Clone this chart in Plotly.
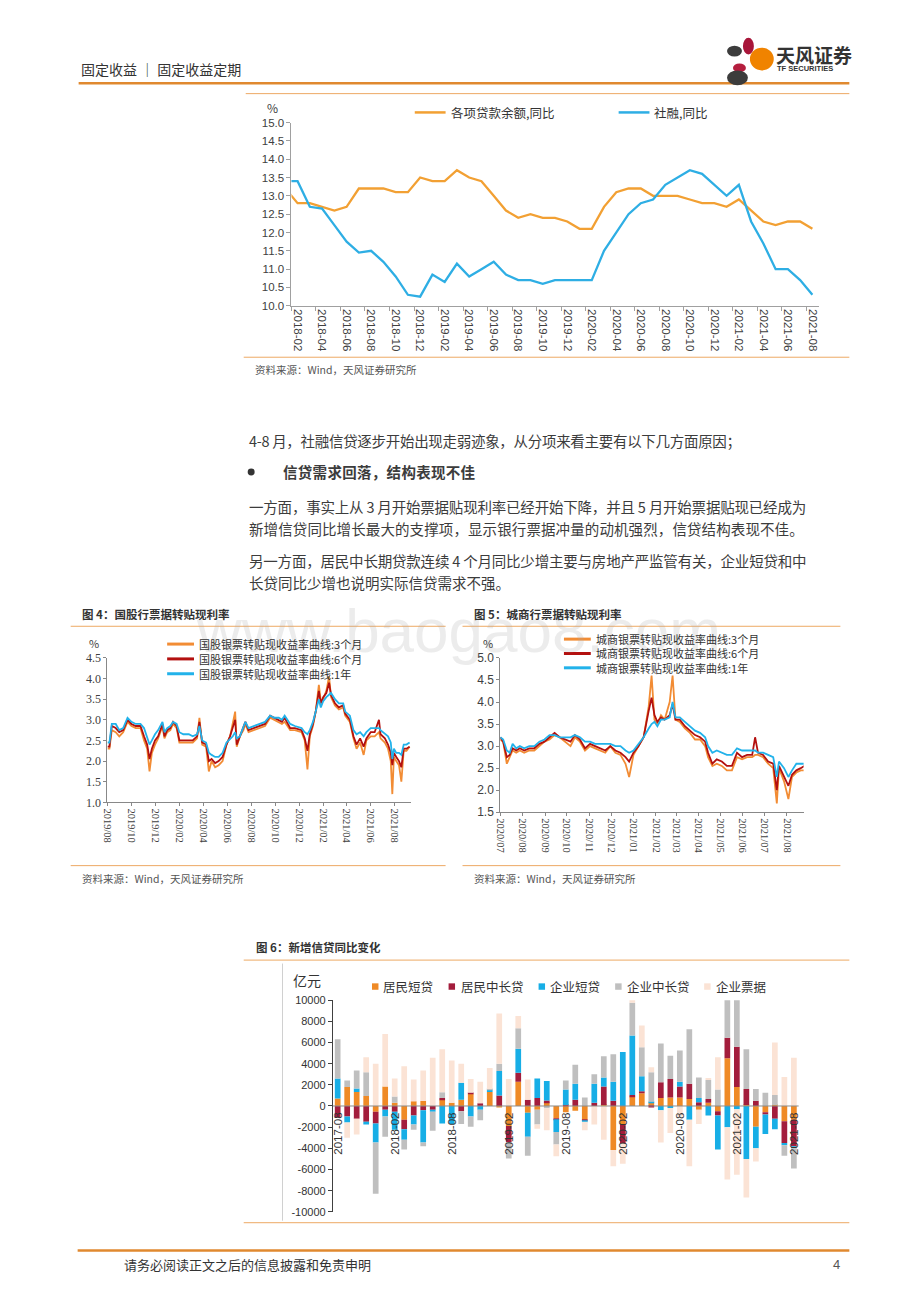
import plotly.graph_objects as go

# The page body keeps its default 8 px margin, so the figure is 16 px smaller than the
# window and every reference pixel position is shifted by that margin.
PAGE_W, PAGE_H = 920, 1302
MARGIN = 8
W, H = PAGE_W - 2 * MARGIN, PAGE_H - 2 * MARGIN


def px(x):
    return (x - MARGIN) / W


def py(y):
    return 1 - (y - MARGIN) / H


# ---------------------------------------------------------------- data
# Chart 1: monthly YoY growth (%), 2018-01 .. 2021-08
top_months = [f"{y}-{m:02d}" for y in range(2018, 2022) for m in range(1, 13)][:44]
top_tick_labels = top_months[1::2]
loan_name = "各项贷款余额,同比"
afre_name = "社融,同比"
loan_yoy = [13.2,
            12.8, 12.8, 12.7, 12.6, 12.7, 13.2, 13.2, 13.2, 13.1, 13.1, 13.5,
            13.4, 13.4, 13.7, 13.5, 13.4, 13.0, 12.6, 12.4, 12.5, 12.4, 12.4, 12.3,
            12.1, 12.1, 12.7, 13.1, 13.2, 13.2, 13.0, 13.0, 13.0, 12.9, 12.8, 12.8,
            12.7, 12.9, 12.6, 12.3, 12.2, 12.3, 12.3, 12.1]
afre_yoy = [13.4,
            13.4, 12.7, 12.65, 12.2, 11.75, 11.45, 11.5, 11.2, 10.8, 10.3, 10.25,
            10.85, 10.65, 11.15, 10.8, 11.0, 11.2, 10.85, 10.7, 10.7, 10.6, 10.7, 10.7,
            10.7, 10.7, 11.5, 12.0, 12.5, 12.8, 12.9, 13.3, 13.5, 13.7, 13.6, 13.3,
            13.0, 13.3, 12.3, 11.7, 11.0, 11.0, 10.7, 10.3]

# Chart 4: state-owned / joint-stock bank bill rediscount yields (%)
f4_names = ["国股银票转贴现收益率曲线:3个月", "国股银票转贴现收益率曲线:6个月", "国股银票转贴现收益率曲线:1年"]
f4_dates = ["2019-08-01", "2019-08-06", "2019-08-12", "2019-08-22", "2019-08-31", "2019-09-10", "2019-09-21",
            "2019-10-01", "2019-10-12", "2019-10-24", "2019-11-02", "2019-11-10", "2019-11-16", "2019-11-22",
            "2019-11-30", "2019-12-08", "2019-12-19", "2019-12-24", "2019-12-31", "2020-01-08", "2020-01-15",
            "2020-01-24", "2020-01-31", "2020-02-10", "2020-02-24", "2020-03-05", "2020-03-16", "2020-03-22",
            "2020-03-29", "2020-04-08", "2020-04-15", "2020-04-22", "2020-05-01", "2020-05-10", "2020-05-20",
            "2020-05-30", "2020-06-08", "2020-06-15", "2020-06-21", "2020-06-25", "2020-07-03", "2020-07-12",
            "2020-07-17", "2020-07-25", "2020-08-07", "2020-08-20", "2020-09-05", "2020-09-18", "2020-09-28",
            "2020-10-10", "2020-10-18", "2020-10-25", "2020-11-08", "2020-11-20", "2020-12-07", "2020-12-15",
            "2020-12-22", "2020-12-28", "2021-01-05", "2021-01-12", "2021-01-20", "2021-01-25", "2021-01-31",
            "2021-02-08", "2021-02-15", "2021-02-20", "2021-03-02", "2021-03-12", "2021-03-23", "2021-03-28",
            "2021-04-09", "2021-04-18", "2021-04-26", "2021-05-05", "2021-05-14", "2021-05-21", "2021-06-01",
            "2021-06-11", "2021-06-22", "2021-06-26", "2021-07-07", "2021-07-15", "2021-07-22", "2021-07-26",
            "2021-07-30", "2021-08-05", "2021-08-12", "2021-08-18", "2021-08-24", "2021-08-31", "2021-09-08"]
f4_3m = [2.30, 2.30, 2.75, 2.70, 2.60, 2.70, 2.95, 2.85, 2.80, 2.80, 2.50, 2.30, 1.75, 2.20, 2.40, 2.55, 2.85,
         2.55, 2.70, 2.75, 2.90, 2.80, 2.45, 2.45, 2.45, 2.45, 2.55, 3.05, 2.40, 2.35, 1.75, 2.00, 1.85, 1.90,
         2.00, 2.40, 2.60, 2.90, 3.20, 2.35, 2.60, 2.75, 2.90, 2.70, 2.75, 2.80, 2.85, 3.05, 3.00, 2.95, 2.90,
         2.95, 2.75, 2.75, 2.70, 2.50, 1.80, 2.60, 2.85, 3.20, 3.85, 3.45, 3.50, 3.70, 4.05, 3.55, 3.35, 3.25,
         3.30, 3.10, 2.95, 2.55, 2.30, 2.45, 2.15, 2.50, 2.60, 2.60, 2.70, 2.55, 2.45, 2.30, 2.00, 1.20, 2.10,
         2.00, 1.90, 1.50, 2.25, 2.25, 2.35]
f4_6m = [2.35, 2.35, 2.85, 2.80, 2.70, 2.75, 3.00, 2.90, 2.85, 2.85, 2.60, 2.40, 2.05, 2.30, 2.50, 2.60, 2.90,
         2.60, 2.75, 2.80, 2.95, 2.85, 2.50, 2.50, 2.50, 2.50, 2.60, 2.95, 2.45, 2.40, 2.00, 2.05, 1.95, 2.00,
         2.10, 2.40, 2.60, 2.80, 3.00, 2.40, 2.60, 2.80, 2.95, 2.75, 2.80, 2.85, 2.90, 3.10, 3.05, 3.00, 2.95,
         3.05, 2.80, 2.80, 2.75, 2.55, 2.25, 2.65, 2.90, 3.20, 3.70, 3.40, 3.55, 3.65, 3.90, 3.60, 3.40, 3.30,
         3.35, 3.15, 3.00, 2.60, 2.40, 2.55, 2.35, 2.55, 2.70, 2.70, 3.00, 2.65, 2.55, 2.40, 2.20, 1.90, 2.20,
         2.10, 2.00, 1.85, 2.30, 2.30, 2.35]
f4_1y = [2.45, 2.45, 2.90, 2.90, 2.75, 2.80, 3.05, 2.95, 2.90, 2.90, 2.80, 2.55, 2.40, 2.50, 2.65, 2.75, 2.95,
         2.70, 2.80, 2.85, 2.95, 2.90, 2.70, 2.65, 2.65, 2.60, 2.65, 2.85, 2.50, 2.45, 2.20, 2.15, 2.10, 2.10,
         2.20, 2.45, 2.55, 2.60, 2.70, 2.55, 2.60, 2.80, 2.95, 2.80, 2.85, 2.90, 2.95, 3.10, 3.05, 3.05, 3.00,
         3.10, 2.90, 2.85, 2.80, 2.70, 2.65, 2.75, 2.95, 3.20, 3.50, 3.30, 3.45, 3.55, 3.60, 3.65, 3.50, 3.40,
         3.40, 3.20, 3.10, 2.75, 2.65, 2.70, 2.60, 2.70, 2.80, 2.80, 2.80, 2.75, 2.65, 2.60, 2.45, 2.05, 2.30,
         2.20, 2.20, 2.15, 2.40, 2.40, 2.45]

# Chart 5: city commercial bank bill rediscount yields (%)
f5_names = ["城商银票转贴现收益率曲线:3个月", "城商银票转贴现收益率曲线:6个月", "城商银票转贴现收益率曲线:1年"]
f5_dates = ["2020-07-01", "2020-07-05", "2020-07-10", "2020-07-14", "2020-07-18", "2020-07-23", "2020-07-28",
            "2020-08-03", "2020-08-10", "2020-08-17", "2020-08-24", "2020-08-31", "2020-09-07", "2020-09-14",
            "2020-09-21", "2020-09-28", "2020-10-06", "2020-10-12", "2020-10-19", "2020-10-26", "2020-11-02",
            "2020-11-09", "2020-11-16", "2020-11-23", "2020-11-30", "2020-12-07", "2020-12-14", "2020-12-21",
            "2020-12-26", "2021-01-01", "2021-01-08", "2021-01-15", "2021-01-22", "2021-01-26", "2021-01-30",
            "2021-02-03", "2021-02-08", "2021-02-13", "2021-02-20", "2021-02-24", "2021-02-28", "2021-03-06",
            "2021-03-13", "2021-03-20", "2021-03-27", "2021-04-03", "2021-04-10", "2021-04-14", "2021-04-20",
            "2021-04-26", "2021-05-03", "2021-05-10", "2021-05-17", "2021-05-24", "2021-05-31", "2021-06-07",
            "2021-06-14", "2021-06-18", "2021-06-22", "2021-06-29", "2021-07-06", "2021-07-13", "2021-07-18",
            "2021-07-21", "2021-07-28", "2021-08-03", "2021-08-08", "2021-08-14", "2021-08-20", "2021-08-25"]
f5_3m = [3.15, 3.10, 2.60, 2.75, 2.90, 2.85, 2.90, 2.85, 2.90, 2.90, 3.00, 3.10, 3.15, 3.25, 3.20, 3.10, 3.00,
         3.20, 3.10, 2.90, 3.00, 2.95, 2.90, 2.85, 3.00, 2.85, 2.80, 2.60, 2.30, 2.80, 3.00, 3.20, 3.90, 4.60,
         3.60, 3.50, 3.70, 3.60, 4.00, 4.60, 3.60, 3.55, 3.40, 3.30, 3.15, 3.15, 3.00, 2.75, 2.55, 2.60, 2.55,
         2.45, 2.45, 2.75, 2.70, 2.75, 2.75, 2.80, 2.80, 2.75, 2.60, 2.50, 1.70, 2.50, 2.20, 1.80, 2.30, 2.40,
         2.45, 2.45]
f5_6m = [3.20, 3.10, 2.75, 2.80, 2.95, 2.90, 2.95, 2.90, 2.95, 2.95, 3.05, 3.10, 3.20, 3.30, 3.20, 3.15, 3.10,
         3.25, 3.15, 2.95, 3.05, 3.00, 2.95, 2.90, 3.00, 2.90, 2.85, 2.75, 2.65, 2.85, 3.00, 3.20, 3.80, 4.10,
         3.70, 3.55, 3.65, 3.60, 3.70, 3.95, 3.60, 3.60, 3.45, 3.35, 3.25, 3.20, 3.10, 2.85, 2.60, 2.70, 2.65,
         2.55, 2.55, 2.85, 2.75, 2.80, 2.80, 3.20, 2.85, 2.80, 2.65, 2.60, 2.00, 2.55, 2.30, 2.10, 2.35, 2.45,
         2.50, 2.55]
f5_1y = [3.20, 3.15, 2.90, 2.85, 3.05, 2.95, 3.00, 2.95, 3.00, 3.00, 3.10, 3.15, 3.25, 3.25, 3.20, 3.20, 3.20,
         3.25, 3.20, 3.10, 3.10, 3.05, 3.05, 3.05, 3.05, 3.00, 3.00, 2.90, 2.85, 2.90, 3.05, 3.20, 3.40, 3.50,
         3.55, 3.45, 3.60, 3.60, 3.65, 4.00, 3.65, 3.65, 3.55, 3.45, 3.35, 3.30, 3.20, 3.00, 2.85, 2.90, 2.85,
         2.80, 2.80, 2.95, 2.90, 2.90, 2.90, 2.90, 2.85, 2.85, 2.80, 2.75, 2.30, 2.65, 2.50, 2.30, 2.45, 2.60,
         2.60, 2.60]

# Chart 6: YoY change of new loans by component (100 mn yuan), 2017-08 .. 2021-08
bar_months = [f"{y}-{m:02d}" for y in range(2017, 2022) for m in range(1, 13)][7:56]
bar_names = ["居民短贷", "居民中长贷", "企业短贷", "企业中长贷", "企业票据"]
hh_short = [700, 1800, 1330, 950, -550, 1850, 300, -1300, 450, 470, 0, 600, 300, 600, 1150, 0, 1330,
            -150, -1900, 2300, -650, -350, 350, -1150, -600, -450, -1300, 0, 100, -4150, -1700, 900, 1200,
            350, 750, 800, 800, 650, -350, 300, -500, 4500, 1800, 100, -1950, -600, 100, -1450, -1300]
hh_long = [-1100, -1000, -1200, -1500, -1100, -350, -550, -900, -900, -400, -350, 150, 0, -500, 100, 250, 0,
           1000, -1500, 850, 600, 750, 180, -100, 100, 600, -100, 300, 1750, 500, -1800, 150, 200,
           -150, 1500, 1750, 1050, 1450, 350, 350, -400, 1950, 3800, 1500, 500, -200, -1200, -2050, -2500]
corp_short = [1900, -550, 320, -250, -1800, -650, -1700, -1000, -850, -3050, -200, -1650, -1700, 1600, -1000,
              -350, 220, 2300, 0, 2250, -2250, 1850, 1820, -1200, 1450, 1500, -100, 1800, 850, 1800, 5100,
              5600, 1400, 50, -400, -200, 450, -1300, 400, -900, -3200, -2000, -300, -5000, -2050, -1850,
              -1000, -200, -200]
corp_long = [3700, 600, 1700, 2250, -4850, -1900, 600, -900, -500, -350, -1800, 550, 0, -1200, -950, -1000, 50,
             700, -1550, 1950, -1800, -1400, -220, -1200, 850, 1800, 800, 900, 2000, 2600, 0, 3100, 2750,
             2800, 3650, 2200, 2950, 5150, 1950, 1800, 1550, 4000, 4500, 3750, 1100, 1250, 950, -1000, -1900]
corp_bill = [0, -1450, -1500, 1400, 4000, 4950, 1700, 3750, 2050, 2880, 4550, 4050, 4000, 1800, 1300, 2050,
             2000, 4750, 2550, 1150, 1900, -400, -2080, -1100, 0, 0, -800, -1750, -3200, -1550, -1950, 350,
             2050, 450, -3050, -2350, -1000, -4400, -1350, 200, 3050, -4950, -6200, -3650, -1250, 0, 4950,
             2750, 4550]
bar_series = [hh_short, hh_long, corp_short, corp_long, corp_bill]
bar_yticks = list(range(-10000, 10001, 2000))

# ---------------------------------------------------------------- styles
CJK = "Noto Sans CJK SC"
SANS = "Liberation Sans, Noto Sans CJK SC"
SERIF = "Liberation Serif, Noto Sans CJK SC"
TXT = "#3a3a3a"
FRAME = "#EDA964"
top_colors = ["#F2A033", "#2EAEE4"]
rate_colors = ["#F28C34", "#B3100F", "#22B2EA"]
bar_colors = ["#EF8A26", "#A31D3C", "#17AEE6", "#BFBFBF", "#FBE3D5"]

fig = go.Figure()

for vals, name, col in [(loan_yoy, loan_name, top_colors[0]), (afre_yoy, afre_name, top_colors[1])]:
    fig.add_trace(go.Scatter(x=top_months, y=vals, name=name, mode="lines",
                             line=dict(color=col, width=2.3), xaxis="x", yaxis="y"))

for vals, name, col in zip([f4_3m, f4_6m, f4_1y], f4_names, rate_colors):
    fig.add_trace(go.Scatter(x=f4_dates, y=vals, name=name, mode="lines",
                             line=dict(color=col, width=1.8), xaxis="x2", yaxis="y2"))

for vals, name, col in zip([f5_3m, f5_6m, f5_1y], f5_names, rate_colors):
    fig.add_trace(go.Scatter(x=f5_dates, y=vals, name=name, mode="lines",
                             line=dict(color=col, width=1.8), xaxis="x3", yaxis="y3"))

for vals, name, col in zip(bar_series, bar_names, bar_colors):
    fig.add_trace(go.Bar(x=bar_months, y=vals, name=name, marker=dict(color=col, line=dict(width=0)),
                         xaxis="x4", yaxis="y4"))

axis_common = dict(showgrid=False, zeroline=False, showline=True, ticks="outside")

fig.update_layout(
    width=W, height=H, margin=dict(l=0, r=0, t=0, b=0),
    paper_bgcolor="white", plot_bgcolor="rgba(0,0,0,0)",
    showlegend=False, barmode="relative", bargap=0.4,
    font=dict(family=SANS, size=11, color=TXT),
    xaxis=dict(axis_common, domain=[px(288), px(818)], anchor="y", type="category",
               range=[0.5, 43.5], tickmode="array", tickvals=top_tick_labels, tickangle=90,
               tickson="boundaries", ticklen=4, tickcolor="#A0A0A0", linecolor="#A0A0A0",
               tickfont=dict(family=SANS, size=11.5, color="#404040")),
    yaxis=dict(axis_common, domain=[py(302), py(116.7)], anchor="x", range=[10, 15], dtick=0.5,
               tickformat=".1f", ticklen=4, tickcolor="#A0A0A0", linecolor="#A0A0A0",
               tickfont=dict(family=SANS, size=11.5, color="#404040")),
    xaxis2=dict(axis_common, domain=[px(103), px(408)], anchor="y2", type="date",
                range=["2019-08-01", "2021-09-11"], tick0="2019-08-01", dtick="M2", tickformat="%Y/%m",
                tickangle=90, ticklen=3, tickcolor="#888", linecolor="#888",
                tickfont=dict(family=SERIF, size=10.5, color="#404040")),
    yaxis2=dict(axis_common, domain=[py(804), py(658)], anchor="x2", range=[1, 4.5], dtick=0.5,
                tickformat=".1f", ticklen=3, tickcolor="#888", linecolor="#888",
                tickfont=dict(family=SERIF, size=12, color="#404040")),
    xaxis3=dict(axis_common, domain=[px(498), px(803)], anchor="y3", type="date",
                range=["2020-07-01", "2021-08-24"], tick0="2020-07-01", dtick="M1", tickformat="%Y/%m",
                tickangle=90, ticklen=3, tickcolor="#888", linecolor="#888",
                tickfont=dict(family=SERIF, size=10.5, color="#404040")),
    yaxis3=dict(axis_common, domain=[py(814), py(658)], anchor="x3", range=[1.5, 5.0], dtick=0.5,
                tickformat=".1f", ticklen=3, tickcolor="#888", linecolor="#888",
                tickfont=dict(family=SANS, size=12, color="#404040")),
    xaxis4=dict(domain=[px(329.7), px(798)], anchor="y4", type="category", range=[-0.5, 48.5],
                showticklabels=False, showline=False, showgrid=False, zeroline=False, ticks=""),
    yaxis4=dict(axis_common, domain=[py(1218), py(1004)], anchor="x4", range=[-10000, 10000],
                tickmode="array", tickvals=bar_yticks, ticktext=[str(v) for v in bar_yticks],
                ticklen=4, tickcolor="#404040", linecolor="#404040",
                tickfont=dict(family=SANS, size=11, color="#333")),
)

shapes = []
ann = []


def hline(x0, x1, y, color, width):
    shapes.append(dict(type="line", xref="paper", yref="paper", x0=px(x0), x1=px(x1), y0=py(y), y1=py(y),
                       line=dict(color=color, width=width)))


def text(x, y, s, size, color=TXT, family=CJK, xanchor="left", bold=False, spacing=None, **kw):
    if spacing is not None:
        s = f'<span style="letter-spacing:{spacing}px">{s}</span>'
    if bold:
        s = f"<b>{s}</b>"
    ann.append(dict(xref="paper", yref="paper", x=px(x), y=py(y), text=s, showarrow=False,
                    xanchor=xanchor, yanchor="middle", font=dict(size=size, color=color, family=family), **kw))


# page header
text(74, 63, "固定收益 ｜ 固定收益定期", 14, color="#333")
hline(74, 849, 77, "#E0892F", 2.5)
for (x0, y0, x1, y1, c) in [(742, 31, 753, 48, "#A8163A"), (726, 39, 741, 50, "#3C3C3C"),
                            (749, 41, 773, 64, "#F08300"), (732, 57, 745, 66, "#B51E3E"),
                            (726, 64, 747, 79, "#3C3C3C")]:
    shapes.append(dict(type="circle", xref="paper", yref="paper", x0=px(x0), x1=px(x1), y0=py(y1), y1=py(y0),
                       fillcolor=c, line=dict(width=0)))
text(773, 48, "天风证券", 19, color="#333", bold=True)
text(774, 62, "TF SECURITIES", 7.5, color="#333", family=SANS, bold=True)

# chart 1 frame, legend, unit, source
hline(242, 849, 87.5, FRAME, 1)
hline(240, 849, 354, FRAME, 1)
text(269, 102, "%", 12, color="#404040", xanchor="center")
for (x0, name, col) in [(412, loan_name, top_colors[0]), (617, afre_name, top_colors[1])]:
    hline(x0, x0 + 31, 106.5, col, 2.5)
    text(x0 + 34, 106.5, name, 12.5, color="#333")
text(249, 366, "资料来源：Wind，天风证券研究所", 10.5, color="#555")

# body text
body = [
    (243, 438, "4-8 月，社融信贷逐步开始出现走弱迹象，从分项来看主要有以下几方面原因；", False, -0.3),
    (277, 470, "信贷需求回落，结构表现不佳", True, 0.3),
    (243, 505, "一方面，事实上从 3 月开始票据贴现利率已经开始下降，并且 5 月开始票据贴现已经成为", False, -0.2),
    (243, 527, "新增信贷同比增长最大的支撑项，显示银行票据冲量的动机强烈，信贷结构表现不佳。", False, 0.1),
    (243, 560, "另一方面，居民中长期贷款连续 4 个月同比少增主要与房地产严监管有关，企业短贷和中", False, -0.2),
    (243, 582, "长贷同比少增也说明实际信贷需求不强。", False, 0.0),
]
for (x, y, s, b, sp) in body:
    text(x, y, s, 14.5, color="#3c3c3c", bold=b, spacing=sp)
shapes.append(dict(type="circle", xref="paper", yref="paper", x0=px(244), x1=px(251), y0=py(473.5), y1=py(466.5),
                   fillcolor="#333", line=dict(width=0)))

# watermark
ann.append(dict(xref="paper", yref="paper", x=px(456), y=py(630), text="www.baogao8.com", showarrow=False,
                xanchor="center", yanchor="middle",
                font=dict(size=62, color="rgba(170,170,170,0.22)", family=SANS)))

# chart 4 / 5 titles, frames, legends, sources
for (tx, lx0, lx1, title, names, leg_x, leg_ys, unit_x) in [
        (75, 66, 443, "图 4：国股行票据转贴现利率", f4_names, 163, [644, 659, 674], 89),
        (470, 460, 840, "图 5：城商行票据转贴现利率", f5_names, 562, [639, 653.5, 668], 486)]:
    text(tx, 614, title, 11.5, color="#333", bold=True)
    hline(lx0, lx1, 626, FRAME, 1)
    hline(lx0, lx1, 868, FRAME, 1)
    text(unit_x, 643, "%", 11, color="#404040", xanchor="center")
    for name, col, ly in zip(names, rate_colors, leg_ys):
        hline(leg_x, leg_x + 27, ly, col, 3)
        text(leg_x + 30, ly, name, 11, color="#333")
    text(tx, 881, "资料来源：Wind，天风证券研究所", 10.5, color="#555")

# chart 6 title, frame, legend, unit, category labels on the zero line
text(250, 950, "图 6：新增信贷同比变化", 11.5, color="#333", bold=True)
hline(240, 849, 963.5, FRAME, 1)
hline(240, 849, 1229, FRAME, 1)
shapes.append(dict(type="line", xref="paper", yref="paper", x0=px(279), x1=px(279), y0=py(1227), y1=py(967),
                   line=dict(color="#D0D0D0", width=1)))
text(304, 984, "亿元", 14, color="#333", xanchor="center")
for name, col, sx, tx in zip(bar_names, bar_colors, [369, 446, 536.5, 613.5, 703], [378, 456, 546, 623, 713]):
    shapes.append(dict(type="rect", xref="paper", yref="paper", x0=px(sx), x1=px(sx + 6.5),
                       y0=py(993.5), y1=py(987), fillcolor=col, line=dict(width=0)))
    text(tx, 990, name, 12.5, color="#333")
shapes.append(dict(type="line", xref="x4 domain", yref="y4", x0=0, x1=1, y0=0, y1=0,
                   line=dict(color="#8C8C8C", width=1), layer="above"))
for m in bar_months[::6]:
    ann.append(dict(xref="x4", yref="y4", x=m, y=0, text=m, showarrow=False, textangle=-90,
                    xanchor="center", yanchor="middle", yshift=-28,
                    font=dict(size=11.5, color="#333", family=SANS)))

# footer
hline(73, 849, 1257, "#E0892F", 2.5)
text(118, 1271, "请务必阅读正文之后的信息披露和免责申明", 13, color="#333")
text(842, 1271, "4", 13, color="#555", family=SANS, xanchor="right")

fig.update_layout(shapes=shapes, annotations=ann)

fig.write_html("out.html", config={"displayModeBar": False})
